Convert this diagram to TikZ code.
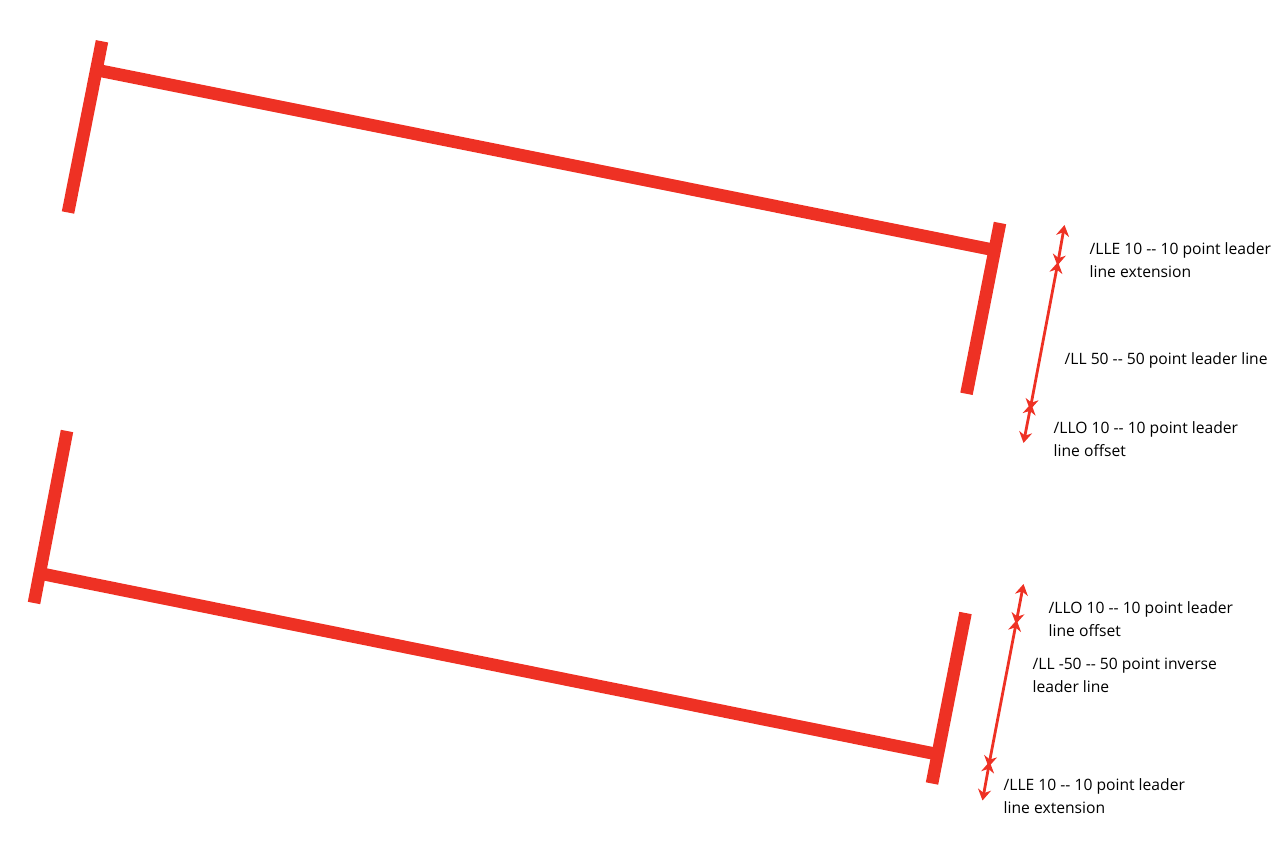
\documentclass[tikz,border=0pt]{standalone}
\usepackage{fontspec}
\setmainfont{Open Sans}
\usetikzlibrary{arrows.meta}
\definecolor{leadred}{RGB}{238,49,36}
\tikzset{
  barline/.style={draw=leadred,line width=12.6pt},
  measure/.style={draw=leadred,line width=2.8pt,{Stealth[length=11pt,width=13pt,inset=3.5pt]}-{Stealth[length=11pt,width=13pt,inset=3.5pt]}},
  note/.style={anchor=north west,inner sep=0pt,align=left,text=black,font=\fontsize{15.65}{23}\selectfont}
}
\begin{document}
\begin{tikzpicture}[x=1pt,y=-1pt]
\useasboundingbox (0,0) rectangle (1282,842);
% top dimension bar
\coordinate (tlA) at (102,41.3);
\coordinate (tlB) at (68,212.5);
\coordinate (trA) at (1000,223);
\coordinate (trB) at (966.5,393.8);
\coordinate (tmA) at (99,70.5);
\coordinate (tmB) at (994,250);
\draw[barline] (tlA) -- (tlB);
\draw[barline] (trA) -- (trB);
\draw[barline] (tmA) -- (tmB);
% bottom dimension bar
\coordinate (blA) at (67,431);
\coordinate (blB) at (34,603);
\coordinate (brA) at (965.5,613);
\coordinate (brB) at (932,783.5);
\coordinate (bmA) at (38,573);
\coordinate (bmB) at (936,754);
\draw[barline] (blA) -- (blB);
\draw[barline] (brA) -- (brB);
\draw[barline] (bmA) -- (bmB);
% top leader arrows
\coordinate (a1) at (1064.5,225);
\coordinate (a2) at (1057.4,265.5);
\coordinate (a3) at (1058,262);
\coordinate (a4) at (1030,410);
\coordinate (a5) at (1031.2,403.5);
\coordinate (a6) at (1023.5,443);
\draw[measure] (a1) -- (a2);
\draw[measure] (a3) -- (a4);
\draw[measure] (a5) -- (a6);
% bottom leader arrows
\coordinate (b1) at (1023.5,584);
\coordinate (b2) at (1015.9,624);
\coordinate (b3) at (1016.7,620);
\coordinate (b4) at (988.5,767);
\coordinate (b5) at (989.6,761.5);
\coordinate (b6) at (982.5,800.5);
\draw[measure] (b1) -- (b2);
\draw[measure] (b3) -- (b4);
\draw[measure] (b5) -- (b6);
% labels
\node[note] (n1) at (1089.5,242.5) {/LLE 10 -{}- 10 point leader\\line extension};
\node[note] (n2) at (1064.5,352.5) {/LL 50 -{}- 50 point leader line};
\node[note] (n3) at (1053.5,421.5) {/LLO 10 -{}- 10 point leader\\line offset};
\node[note] (n4) at (1048.5,601.5) {/LLO 10 -{}- 10 point leader\\line offset};
\node[note] (n5) at (1032.5,657.5) {/LL -50 -{}- 50 point inverse\\leader line};
\node[note] (n6) at (1003.5,778.5) {/LLE 10 -{}- 10 point leader\\line extension};
\end{tikzpicture}
\end{document}
